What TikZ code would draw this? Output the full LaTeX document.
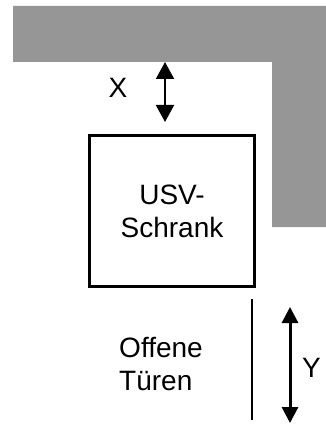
\documentclass[tikz,border=0pt]{standalone}
\usepackage{fontspec}
\setmainfont{Liberation Sans}
\usetikzlibrary{arrows.meta}
\definecolor{wallgray}{RGB}{150,150,150}

\tikzset{
  lbl/.style={font=\fontsize{28}{33}\selectfont, inner sep=0},
  dimarrow/.style={line width=#1, {Triangle[length=17pt,width=18pt]}-{Triangle[length=17pt,width=18pt]}},
  doorarrow/.style={line width=#1, {Triangle[length=16pt,width=16pt]}-{Triangle[length=16pt,width=16pt]}}
}

\begin{document}
\begin{tikzpicture}[x=1pt,y=-1pt]
\def\W{326}
\def\H{425}
\useasboundingbox (0,0) rectangle (\W,\H);

% wall
\fill[wallgray] (13,6) -- (\W,6) -- (\W,227) -- (272,227) -- (272,62) -- (13,62) -- cycle;

% cabinet
\node[draw, line width=3, minimum width=165, minimum height=151, align=center, lbl] (schrank) at (172,211) {USV-\\Schrank};

% distance to wall
\coordinate (xtop) at (165,62);
\coordinate (xbot) at (165,122);
\draw[dimarrow=2] (xtop) -- (xbot);
\node[lbl] (xlabel) at (118,87.5) {X};

% door clearance
\coordinate (doortop) at (252,299);
\coordinate (doorbot) at (252,420);
\draw[line width=2] (doortop) -- (doorbot);
\node[lbl, align=left] (tueren) at (161,364.5) {Offene\\Türen};

\coordinate (ytop) at (290,307);
\coordinate (ybot) at (290,423);
\draw[doorarrow=3] (ytop) -- (ybot);
\node[lbl] (ylabel) at (311.5,367.5) {Y};

\end{tikzpicture}
\end{document}
